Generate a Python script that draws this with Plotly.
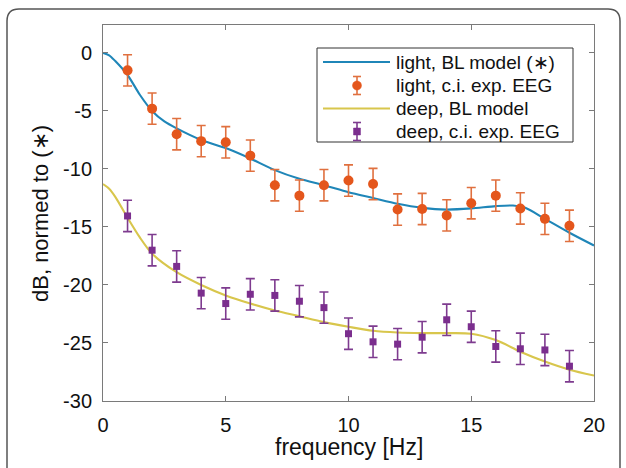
import plotly.graph_objects as go

# ---------------- data ----------------
freq_pts = list(range(1, 20))

light_eeg = [-1.5, -4.8, -7.0, -7.6, -7.7, -8.85, -11.4, -12.3, -11.4, -11.0,
             -11.3, -13.5, -13.45, -14.0, -12.95, -12.3, -13.4, -14.3, -14.9]
light_err = [1.35] * 19

deep_eeg = [-14.05, -17.0, -18.4, -20.7, -21.6, -20.8, -20.9, -21.4, -21.95, -24.2,
            -24.9, -25.1, -24.5, -23.0, -23.6, -25.3, -25.5, -25.6, -27.0]
deep_err = [1.35] * 19

light_model_f = [0, 0.25, 0.5, 1, 1.5, 2, 2.5, 3, 4, 5, 6, 7, 8, 9, 10, 11, 12,
                 13, 14, 15, 16, 16.7, 17.2, 18, 19, 20]
light_model = [0, -0.2, -0.7, -1.9, -3.6, -5.0, -5.9, -6.5, -7.5, -8.2, -9.1, -10.1,
               -10.85, -11.4, -12.0, -12.5, -13.0, -13.35, -13.5, -13.4, -13.2,
               -13.15, -13.35, -14.3, -15.5, -16.6]

deep_model_f = [0, 0.25, 0.5, 1, 1.5, 2, 3, 4, 5, 6, 7, 8, 9, 10, 11, 12, 13, 14,
                15, 16, 17, 18, 19, 20]
deep_model = [-11.3, -11.7, -12.4, -14.2, -15.9, -17.3, -18.9, -20.0, -20.9, -21.6,
              -22.2, -22.7, -23.2, -23.6, -23.95, -24.1, -24.15, -24.15, -24.2,
              -24.75, -25.75, -26.6, -27.3, -27.8]

x_ticks = [0, 5, 10, 15, 20]
x_tick_labels = ["0", "5", "10", "15", "20"]
y_ticks = [0, -5, -10, -15, -20, -25, -30]
y_tick_labels = ["0", "-5", "-10", "-15", "-20", "-25", "-30"]

legend_labels = ["light, BL model (∗)", "light, c.i. exp. EEG",
                 "deep, BL model", "deep, c.i. exp. EEG"]

# ---------------- styling ----------------
C_LIGHT_LINE = "#1f86b8"
C_LIGHT_PT = "#e4561c"
C_LIGHT_ERR = "#e0703f"
C_DEEP_LINE = "#d8c64c"
C_DEEP_PT = "#7b2e8e"
C_DEEP_ERR = "#7e3b8f"
FONT = "Liberation Sans, Arial, sans-serif"

W, H = 626, 468
L, R, T, B = 103, 32, 25, 67
PW, PH = W - L - R, H - T - B


def px(xp):
    return (xp - L) / PW


def py(yp):
    return (H - B - yp) / PH


fig = go.Figure()

fig.add_trace(go.Scatter(
    x=light_model_f, y=light_model, mode="lines", name=legend_labels[0],
    line=dict(color=C_LIGHT_LINE, width=2.1, shape="spline", smoothing=0.8)))
fig.add_trace(go.Scatter(
    x=freq_pts, y=light_eeg, mode="markers", name=legend_labels[1],
    marker=dict(symbol="circle", size=10, color=C_LIGHT_PT),
    error_y=dict(type="data", array=light_err, color=C_LIGHT_ERR, thickness=1.6, width=4.5)))
fig.add_trace(go.Scatter(
    x=deep_model_f, y=deep_model, mode="lines", name=legend_labels[2],
    line=dict(color=C_DEEP_LINE, width=2.1, shape="spline", smoothing=0.8)))
fig.add_trace(go.Scatter(
    x=freq_pts, y=deep_eeg, mode="markers", name=legend_labels[3],
    marker=dict(symbol="square", size=7, color=C_DEEP_PT),
    error_y=dict(type="data", array=deep_err, color=C_DEEP_ERR, thickness=1.6, width=4.5)))

axis_common = dict(
    showgrid=False, zeroline=False, showline=True, linecolor="#7a7a7a", linewidth=1,
    mirror="ticks", ticks="inside", ticklen=5, tickcolor="#7a7a7a", tickwidth=1,
    tickfont=dict(family=FONT, size=20, color="#111"))

fig.update_xaxes(range=[0, 20], tickvals=x_ticks, ticktext=x_tick_labels,
                 ticklabelstandoff=6, **axis_common)
fig.update_yaxes(range=[-30, 2.41], tickvals=y_ticks, ticktext=y_tick_labels,
                 ticklabelstandoff=6, **axis_common)

shapes = []
# outer rounded frame of the figure panel
r = 12
frame = (f"M {px(7)},{py(480)} L {px(7)},{py(9 + r)} "
         f"Q {px(7)},{py(9)} {px(7 + r)},{py(9)} "
         f"L {px(620 - r)},{py(9)} Q {px(620)},{py(9)} {px(620)},{py(9 + r)} "
         f"L {px(620)},{py(480)}")
shapes.append(dict(type="path", xref="paper", yref="paper", path=frame,
                   line=dict(color="#555", width=1.5)))

# legend box (drawn by hand to match the compact MATLAB legend)
LX0, LX1, LY0, LY1 = 317, 573, 48, 142
shapes.append(dict(type="rect", xref="paper", yref="paper",
                   x0=px(LX0), x1=px(LX1), y0=py(LY1), y1=py(LY0),
                   fillcolor="white", line=dict(color="#333", width=1), layer="above"))
rows = [62, 85.5, 108.5, 131.5]
SX0, SX1, SXM = 323, 390, 357
annotations = []
for i, (lab, yy) in enumerate(zip(legend_labels, rows)):
    if i in (0, 2):
        col = C_LIGHT_LINE if i == 0 else C_DEEP_LINE
        shapes.append(dict(type="line", xref="paper", yref="paper",
                           x0=px(SX0), x1=px(SX1), y0=py(yy), y1=py(yy),
                           line=dict(color=col, width=2.1), layer="above"))
    else:
        ecol = C_LIGHT_ERR if i == 1 else C_DEEP_ERR
        pcol = C_LIGHT_PT if i == 1 else C_DEEP_PT
        for seg in [(SXM, yy - 9, SXM, yy + 9), (SXM - 4, yy - 9, SXM + 4, yy - 9),
                    (SXM - 4, yy + 9, SXM + 4, yy + 9)]:
            shapes.append(dict(type="line", xref="paper", yref="paper",
                               x0=px(seg[0]), y0=py(seg[1]), x1=px(seg[2]), y1=py(seg[3]),
                               line=dict(color=ecol, width=1.6), layer="above"))
        hs = 4.5 if i == 1 else 3.5
        shapes.append(dict(type="circle" if i == 1 else "rect", xref="paper", yref="paper",
                           x0=px(SXM - hs), x1=px(SXM + hs), y0=py(yy + hs), y1=py(yy - hs),
                           fillcolor=pcol, line=dict(color=pcol, width=0.5), layer="above"))
    annotations.append(dict(text=lab, xref="paper", yref="paper", x=px(394), y=py(yy),
                            xanchor="left", yanchor="middle", showarrow=False,
                            font=dict(family=FONT, size=19, color="#111")))

annotations += [
    dict(text="frequency [Hz]", xref="paper", yref="paper", x=px(349), y=py(447),
         xanchor="center", yanchor="middle", showarrow=False,
         font=dict(family=FONT, size=23, color="#111")),
    dict(text="dB, normed to (∗)", xref="paper", yref="paper", x=px(40), y=py(213),
         xanchor="center", yanchor="middle", showarrow=False, textangle=-90,
         font=dict(family=FONT, size=22, color="#111")),
]

fig.update_layout(
    width=W, height=H, margin=dict(l=L, r=R, t=T, b=B),
    paper_bgcolor="white", plot_bgcolor="white",
    font=dict(family=FONT, color="#111"),
    showlegend=False,
    shapes=shapes,
    annotations=annotations,
)

fig.write_html("out.html", config={"displayModeBar": False},
               post_script="document.body.style.margin='0';document.body.style.overflow='hidden';")
